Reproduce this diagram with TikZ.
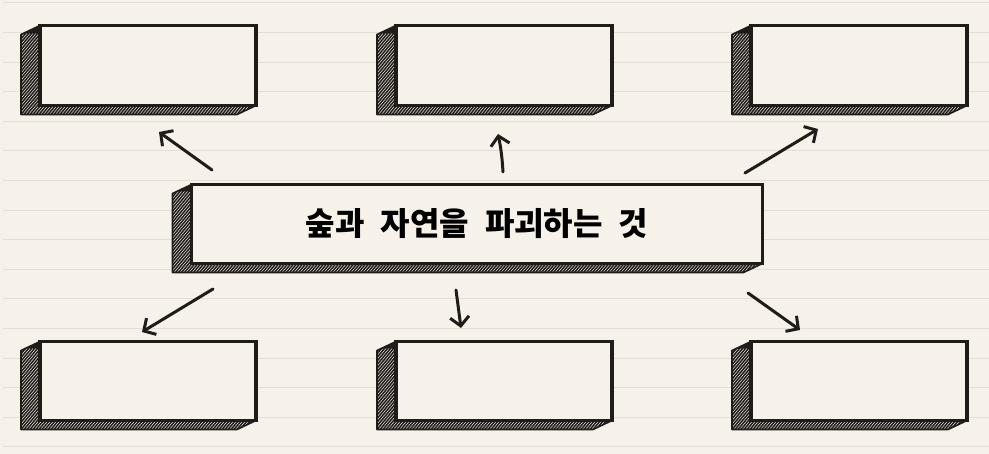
\documentclass[tikz,border=0pt]{standalone}
\usepackage{fontspec}
\usetikzlibrary{arrows.meta}
\newfontfamily\krfont{Noto Sans CJK KR}
\definecolor{paper}{HTML}{F6F2EA}
\definecolor{rule}{HTML}{E4DCD7}
\definecolor{ink}{HTML}{201C19}
\tikzset{face/.style = {draw=ink, fill=paper, line width=3.2pt, inner sep=0pt, outer sep=0pt,
                        font={\krfont\bfseries\fontsize{32pt}{38pt}\selectfont\spaceskip=0.5em\relax}}}
\tikzset{streak/.style = {draw=paper, line width=0.45pt}}
\tikzset{ruleline/.style = {draw=rule, line width=1pt}}
\tikzset{sketch/.style = {draw=ink, line width=3pt, line cap=round,
                          -{Straight Barb[length=9pt, width=19pt]}}}
% box with hatched left and bottom sides
\newcommand{\sketchbox}[6]{%
  \begin{scope}[shift={(#2,#3)}]
    \begin{scope}
      \clip (-#4/2,-#5/2) -- ++(-19,9) -- (-#4/2-19,#5/2+9) -- (#4/2-19,#5/2+9)
            -- (#4/2,#5/2) -- (-#4/2,#5/2) -- cycle;
      \fill [ink] (-#4/2-25,-#5/2-5) rectangle (#4/2+5,#5/2+15);
      \foreach \t in {-110,-107,...,600} {
        \draw [streak] (-#4/2+\t,#5/2+12) -- ++(70,-84);
      }
    \end{scope}
    \draw [ink, line width=1.6pt, line join=round] (-#4/2,-#5/2) -- ++(-19,9)
          -- (-#4/2-19,#5/2+9) -- (#4/2-19,#5/2+9) -- (#4/2,#5/2);
  \end{scope}
  \node [face, minimum width=#4, minimum height=#5] (#1) at (#2,#3) {#6};
}

\begin{document}
\begin{tikzpicture}[x=1pt, y=-1pt]
    \useasboundingbox (0,0) rectangle (989,454);
    \fill [paper] (0,0) rectangle (989,454);
    \foreach \k in {0,...,15} {
      \draw [ruleline] (3,3+29.6*\k) -- (989,3+29.6*\k);
    }

    \sketchbox{b1}{148}{65.5}{216}{80}{}
    \sketchbox{b2}{504}{65.5}{216}{80}{}
    \sketchbox{b3}{859}{65.5}{216}{80}{}
    \sketchbox{main}{477}{224}{571}{79}{숲과 자연을 파괴하는 것}
    \sketchbox{b4}{148}{381}{216}{79}{}
    \sketchbox{b5}{504}{381}{216}{79}{}
    \sketchbox{b6}{859}{381}{216}{79}{}

    \coordinate (t1) at (212,170); \coordinate (h1) at (159,132);
    \coordinate (t2) at (503,172); \coordinate (h2) at (498,134);
    \coordinate (t3) at (745,173); \coordinate (h3) at (818,129);
    \coordinate (t4) at (213,289); \coordinate (h4) at (142,332);
    \coordinate (t5) at (456,290); \coordinate (h5) at (461,328);
    \coordinate (t6) at (748,293); \coordinate (h6) at (800,330);
    \draw [sketch] (t1) -- (h1);
    \draw [sketch] (t2) to [bend right=4] (h2);
    \draw [sketch] (t3) -- (h3);
    \draw [sketch] (t4) -- (h4);
    \draw [sketch] (t5) -- (h5);
    \draw [sketch] (t6) -- (h6);
\end{tikzpicture}
\end{document}
